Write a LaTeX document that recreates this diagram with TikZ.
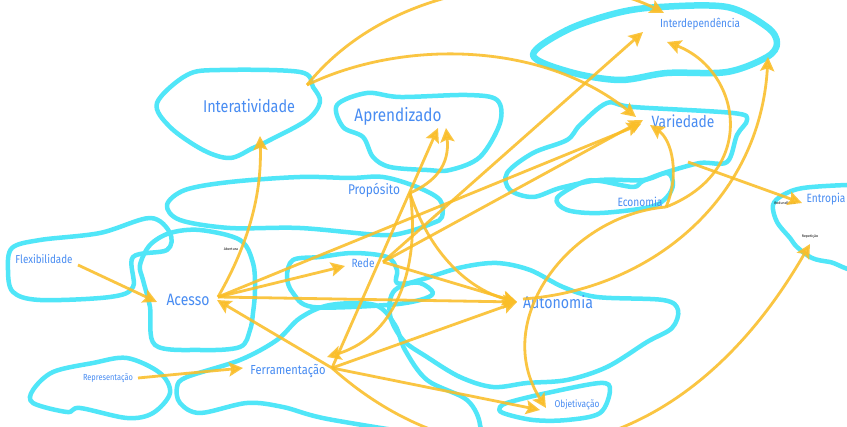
\documentclass[tikz,border=0pt]{standalone}
\usepackage{fontspec}
\setmainfont{Fira Sans}
\usepackage{graphicx}
\usetikzlibrary{arrows.meta}
\definecolor{blobc}{RGB}{80,230,248}
\definecolor{arrc}{RGB}{250,190,40}
\definecolor{lblc}{RGB}{72,140,242}
\newcommand{\tw}[2]{\resizebox{#1pt}{!}{\scalebox{1}[1.18]{#2}}}
\tikzset{
  blobline/.style={draw=blobc, line width=4.5pt, line join=round},
  thickblob/.style={draw=blobc, line width=6.5pt, line join=round},
  conn/.style={draw=arrc, line width=2.8pt, opacity=0.88, -{Stealth[length=14pt,width=14pt,inset=2.5pt]}},
  lab/.style={text=lblc, inner sep=1pt},
  tinylab/.style={text=black, inner sep=0pt, font=\fontsize{3.6}{4}\selectfont}
}
\begin{document}
\begin{tikzpicture}[x=1pt,y=-1pt]
\useasboundingbox (0,0) rectangle (847,427);
\clip (0,0) rectangle (847,427);
\fill[white] (0,0) rectangle (847,427);
% ---------- blobs ----------
\draw[blobline] plot[smooth cycle, tension=0.55] coordinates {(157,103) (187,75) (220,70) (300,72) (313,87) (320,102) (307,120) (270,140) (253,148) (230,158) (203,150) (170,127)};
\draw[blobline] plot[smooth cycle, tension=0.55] coordinates {(337,105) (367,93) (400,97) (467,95) (497,100) (500,123) (480,157) (450,170) (427,170) (390,167) (373,157) (363,137) (343,127)};
\draw[blobline] plot[smooth cycle, tension=0.55] coordinates {(167,205) (185,190) (230,182) (300,177) (350,178) (383,177) (417,187) (440,200) (442,217) (433,223) (407,232) (380,235) (300,228) (230,228) (180,220)};
\draw[blobline] plot[smooth cycle, tension=0.55] coordinates {(8,270) (12,248) (40,240) (100,233) (150,218) (170,233) (167,250) (133,257) (133,287) (110,297) (40,300) (13,292)};
\draw[blobline] plot[smooth cycle, tension=0.55] coordinates {(140,265) (150,245) (170,233) (200,230) (240,240) (253,263) (255,290) (253,313) (250,330) (240,347) (200,350) (155,345) (150,307) (143,280)};
\draw[blobline] plot[smooth cycle, tension=0.55] coordinates {(287,277) (293,260) (320,257) (353,253) (387,257) (397,270) (397,283) (420,283) (433,293) (420,300) (387,305) (313,307) (293,293)};
\draw[blobline] plot[smooth cycle, tension=0.55] coordinates {(395,290) (430,277) (463,267) (497,263) (530,270) (563,287) (597,297) (663,300) (678,310) (672,328) (647,342) (607,367) (567,380) (527,383) (493,387) (460,377) (427,357) (403,340) (390,315)};
\draw[blobline] plot[smooth cycle, tension=0.55] coordinates {(177,387) (187,377) (240,360) (277,340) (300,318) (330,305) (375,305) (395,325) (405,350) (427,380) (467,400) (480,425) (470,440) (333,420) (283,407) (247,403) (200,413) (180,403)};
\draw[blobline] plot[smooth cycle, tension=0.55] coordinates {(33,390) (53,372) (93,363) (127,358) (160,373) (170,393) (153,413) (127,418) (80,408) (67,412) (33,403)};
\draw[blobline] plot[smooth cycle, tension=0.55] coordinates {(500,407) (510,402) (547,393) (600,383) (610,390) (600,413) (567,420) (533,420) (503,413)};
\draw[thickblob] plot[smooth cycle, tension=0.55] coordinates {(533,55) (567,30) (617,13) (660,7) (727,7) (767,27) (777,43) (767,57) (727,72) (667,73) (620,80) (570,72)};
\draw[blobline] plot[smooth cycle, tension=0.55] coordinates {(607,103) (633,107) (733,113) (747,120) (737,135) (727,162) (700,163) (667,172) (643,180) (600,180) (560,188) (533,197) (510,190) (507,173) (533,153) (567,140) (580,125)};
\draw[blobline] plot[smooth cycle, tension=0.55] coordinates {(557,198) (583,182) (600,181) (633,187) (643,181) (667,173) (673,184) (667,197) (650,207) (600,213) (567,210)};
\draw[blobline] plot[smooth cycle, tension=0.55] coordinates {(783,195) (803,188) (847,185) (862,186) (862,266) (830,262) (812,258) (797,247) (790,238) (777,222) (773,205)};
% ---------- labels ----------
\node[lab] (inter) at (249,106) {\tw{92}{Interatividade}};
\node[lab] (apr) at (398,116) {\tw{87}{Aprendizado}};
\node[lab] (prop) at (374,190) {\tw{52}{Propósito}};
\node[lab] (flex) at (44,259) {\tw{57}{Flexibilidade}};
\node[tinylab] (abert) at (231,249) {Abertura};
\node[lab] (rede) at (363,263) {\tw{23}{Rede}};
\node[lab] (acesso) at (188,300) {\tw{43}{Acesso}};
\node[lab] (auto) at (558,302) {\tw{70}{Autonomia}};
\node[lab] (repr) at (108,378) {\tw{50}{Representação}};
\node[lab] (ferr) at (288,371) {\tw{75}{Ferramentação}};
\node[lab] (obj) at (577,405) {\tw{45}{Objetivação}};
\node[lab] (idp) at (700,24) {\tw{80}{Interdependência}};
\node[lab] (var) at (683,121) {\tw{63}{Variedade}};
\node[lab] (econ) at (640,202) {\tw{45}{Economia}};
\node[lab] (entr) at (826,199) {\tw{39}{Entropia}};
\node[tinylab] (redund) at (785,203) {Redundância};
\node[tinylab] (repet) at (810,237) {Repetição};
% ---------- connector ends ----------
\coordinate (flexT) at (78,265);
\coordinate (acIn) at (157,302);
\coordinate (reprT) at (138,378);
\coordinate (ferIn) at (243,368);
\coordinate (acH) at (218,297);
\coordinate (interIn) at (260,136);
\coordinate (redeIn) at (345,266);
\coordinate (autIn) at (517,302);
\coordinate (varInA) at (641,124);
\coordinate (varInR) at (643,120);
\coordinate (varInI) at (636,117);
\coordinate (varInE) at (650,125);
\coordinate (redeH) at (383,262);
\coordinate (idpInR) at (643,32);
\coordinate (idpInI) at (664,13);
\coordinate (idpInE) at (667,42);
\coordinate (propH) at (410,193);
\coordinate (aprInP) at (446,128);
\coordinate (aprInF) at (438,128);
\coordinate (ferInP) at (327,357);
\coordinate (ferH) at (332,368);
\coordinate (acInF) at (217,300);
\coordinate (objInF) at (540,410);
\coordinate (objInE) at (546,408);
\coordinate (repIn) at (810,244);
\coordinate (interH) at (307,85);
\coordinate (autH) at (523,299);
\coordinate (kIn) at (768,57);
\coordinate (econH) at (666,207);
\coordinate (varH) at (688,162);
\coordinate (entIn) at (802,203);
% ---------- connectors ----------
\draw[conn] (flexT) -- (acIn);
\draw[conn] (reprT) -- (ferIn);
\draw[conn] (acH) .. controls (245,250) and (262,200) .. (interIn);
\draw[conn] (acH) -- (redeIn);
\draw[conn] (acH) -- (autIn);
\draw[conn] (acH) -- (varInA);
\draw[conn] (redeH) -- (autIn);
\draw[conn] (redeH) -- (varInR);
\draw[conn] (redeH) -- (idpInR);
\draw[conn] (propH) .. controls (430,255) and (470,290) .. (autIn);
\draw[conn] (propH) .. controls (435,182) and (450,165) .. (aprInP);
\draw[conn] (propH) .. controls (420,260) and (400,335) .. (ferInP);
\draw[conn] (ferH) -- (aprInF);
\draw[conn] (ferH) -- (acInF);
\draw[conn] (ferH) -- (autIn);
\draw[conn] (ferH) -- (objInF);
\draw[conn] (ferH) .. controls (480,500) and (680,470) .. (repIn);
\draw[conn] (interH) .. controls (400,40) and (540,40) .. (varInI);
\draw[conn] (interH) .. controls (400,-30) and (580,-30) .. (idpInI);
\draw[conn] (autH) .. controls (650,290) and (760,200) .. (kIn);
\draw[conn] (econH) .. controls (760,170) and (740,70) .. (idpInE);
\draw[conn] (econH) .. controls (570,215) and (490,320) .. (objInE);
\draw[conn] (econH) .. controls (680,175) and (672,140) .. (varInE);
\draw[conn] (varH) -- (entIn);
\end{tikzpicture}
\end{document}
